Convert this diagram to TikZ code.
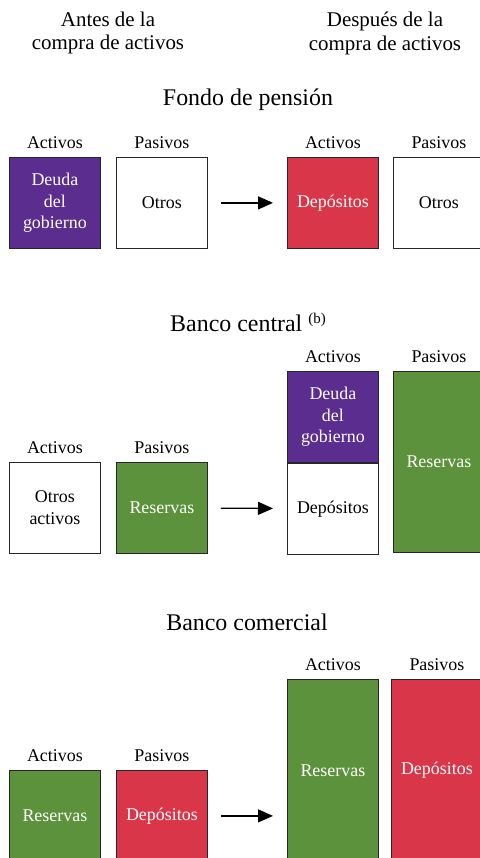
\documentclass[tikz,border=0pt]{standalone}
\usepackage{fontspec}
\setmainfont{Liberation Serif}
\usepackage{tikz}
\usetikzlibrary{arrows.meta,positioning,calc}
\definecolor{violeta}{RGB}{91,45,142}
\definecolor{rojo}{RGB}{217,54,73}
\definecolor{verde}{RGB}{92,146,59}
\tikzstyle{caja}=[draw=black!85, line width=0.8bp, minimum width=91bp, minimum height=91bp, inner sep=0pt, align=center, anchor=north west, font=\fontsize{18}{21.7}\selectfont]
\tikzstyle{etiqueta}=[inner sep=0pt, text height=13bp, text depth=4bp, font=\fontsize{18}{21.7}\selectfont]
\tikzstyle{titulo}=[inner sep=0pt, font=\fontsize{24}{28}\selectfont]
\tikzstyle{encabezado}=[inner sep=0pt, align=center, font=\fontsize{21}{24}\selectfont]
\tikzstyle{flecha}=[-{Triangle[length=15bp,width=13bp]}, line width=1.3bp, shorten <=13bp, shorten >=14bp]

\begin{document}
\begin{tikzpicture}[x=1bp, y=-1bp]

\clip (0,0) rectangle (480,858);

\node[encabezado] (antes) at (108,33) {Antes de la\\compra de activos};
\node[encabezado] (despues) at (385,33) {Después de la\\compra de activos};

% fondo de pension
\node[titulo] (fp) at (248,100) {Fondo de pensión};
\node[caja, fill=violeta, text=white] (fpA0) at (9,157) {Deuda\\del\\gobierno};
\node[caja] (fpP0) at (116,157) {Otros};
\node[caja, fill=rojo, text=white] (fpA1) at (287,157) {Depósitos};
\node[caja] (fpP1) at (393,157) {Otros};
\node[etiqueta, above=4.5bp of fpA0] {Activos};
\node[etiqueta, above=4.5bp of fpP0] {Pasivos};
\node[etiqueta, above=4.5bp of fpA1] {Activos};
\node[etiqueta, above=4.5bp of fpP1] {Pasivos};
\draw[flecha] (fpP0) -- (fpA1);

% banco central
\node[titulo] (bc) at (248,322) {Banco central \raisebox{8bp}{\fontsize{15}{15}\selectfont(b)}};
\node[caja] (bcA0) at (9,462) {Otros\\activos};
\node[caja, fill=verde, text=white] (bcP0) at (116,462) {Reservas};
\node[caja, fill=violeta, text=white] (bcA1a) at (287,371) {Deuda\\del\\gobierno};
\node[caja, anchor=north] (bcA1b) at (bcA1a.south) {Depósitos};
\node[caja, minimum height=181bp, fill=verde, text=white] (bcP1) at (393,371) {Reservas};
\node[etiqueta, above=4.5bp of bcA0] {Activos};
\node[etiqueta, above=4.5bp of bcP0] {Pasivos};
\node[etiqueta, above=4.5bp of bcA1a] {Activos};
\node[etiqueta, above=4.5bp of bcP1] {Pasivos};
\draw[flecha] (bcP0) -- (bcA1b);

% banco comercial
\node[titulo] (cb) at (247,622) {Banco comercial};
\node[caja, fill=verde, text=white] (cbA0) at (9,770) {Reservas};
\node[caja, fill=rojo, text=white] (cbP0) at (116,770) {Depósitos};
\node[caja, minimum height=182bp, fill=verde, text=white] (cbA1) at (287,679) {Reservas};
\node[caja, minimum height=182bp, fill=rojo, text=white] (cbP1) at (391,679) {Depósitos};
\node[etiqueta, above=4.5bp of cbA0] {Activos};
\node[etiqueta, above=4.5bp of cbP0] {Pasivos};
\node[etiqueta, above=4.5bp of cbA1] {Activos};
\node[etiqueta, above=4.5bp of cbP1] {Pasivos};
\draw[flecha] (cbP0.east) -- (cbP0.east -| cbA1.west);

\end{tikzpicture}
\end{document}
